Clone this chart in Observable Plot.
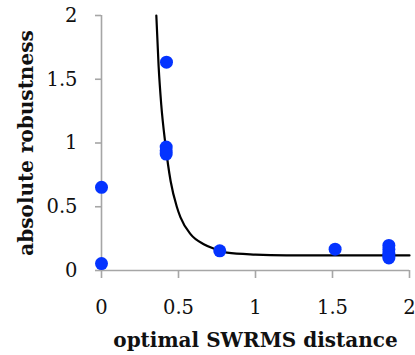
<!DOCTYPE html>
<html>
<head>
<meta charset="utf-8">
<script src="https://cdn.jsdelivr.net/npm/d3@7"></script>
<script src="https://cdn.jsdelivr.net/npm/@observablehq/plot@0.6"></script>
<style>
  html, body { margin: 0; padding: 0; background: #fff; }
</style>
</head>
<body>
<div id="chart"></div>
<script>
// Scatter points (optimal SWRMS distance, absolute robustness)
const pointX = [0, 0, 0.422, 0.42, 0.42, 0.42, 0.768, 1.517, 1.866, 1.866, 1.866, 1.866, 1.866];
const pointY = [0.652, 0.054, 1.634, 0.968, 0.94, 0.913, 0.154, 0.167, 0.197, 0.165, 0.135, 0.115, 0.098];

// Fitted curve
const curveX = [0.356, 0.371, 0.388, 0.414, 0.449, 0.489, 0.513, 0.578, 0.664, 0.74, 0.815, 1.0, 1.2, 1.5, 2.0];
const curveY = [2.0, 1.6, 1.3, 1.0, 0.7, 0.5, 0.416, 0.285, 0.206, 0.167, 0.14, 0.125, 0.119, 0.118, 0.118];

const xTicks = [0, 0.5, 1, 1.5, 2];
const yTicks = [0, 0.5, 1, 1.5, 2];

const points = pointX.map((x, i) => ({x, y: pointY[i]}));
const curve = curveX.map((x, i) => ({x, y: curveY[i]}));

const gray = "#a6a6a6";

const chart = Plot.plot({
  width: 415,
  height: 355,
  marginLeft: 101,
  marginRight: 6,
  marginTop: 15,
  marginBottom: 85,
  style: {fontFamily: "DejaVu Serif", background: "#fff", color: "#111"},
  x: {domain: [0, 2]},
  y: {domain: [0, 2]},
  marks: [
    Plot.ruleY([0], {stroke: gray, strokeWidth: 1.6}),
    Plot.ruleX([0], {stroke: gray, strokeWidth: 1.6}),
    Plot.axisX({ticks: xTicks, tickSize: 8, tickPadding: 22, stroke: gray, strokeWidth: 1.6,
      tickFormat: d => String(d), fontSize: 19.5, label: null}),
    Plot.axisY({ticks: yTicks, tickSize: 6, tickPadding: 18, stroke: gray, strokeWidth: 1.6,
      tickFormat: d => String(d), fontSize: 19.5, label: null}),
    Plot.axisX({ticks: [], label: "optimal SWRMS distance", labelAnchor: "center", labelArrow: "none",
      labelOffset: 76.5, fontSize: 20, fontWeight: "bold"}),
    Plot.axisY({ticks: [], label: "absolute robustness", labelAnchor: "center", labelArrow: "none",
      labelOffset: 83, fontSize: 20, fontWeight: "bold"}),
    Plot.line(curve, {x: "x", y: "y", curve: "monotone-x", stroke: "#000", strokeWidth: 2.2}),
    Plot.dot(points, {x: "x", y: "y", r: 6.5, fill: "#0433ff", stroke: "none"})
  ]
});
document.getElementById("chart").appendChild(chart);
</script>
</body>
</html>
